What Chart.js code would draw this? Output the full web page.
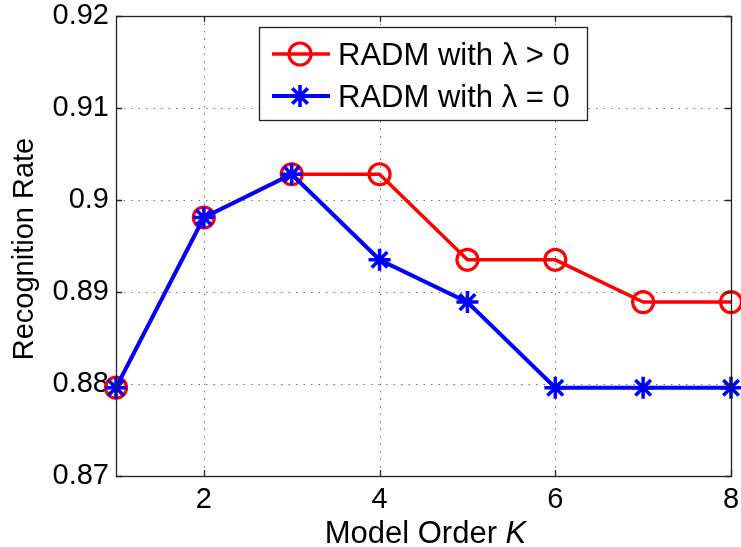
<!DOCTYPE html>
<html>
<head>
<meta charset="utf-8">
<script src="https://cdn.jsdelivr.net/npm/chart.js@4/dist/chart.umd.min.js"></script>
<style>
  html, body { margin: 0; padding: 0; background: #fff; }
  canvas { display: block; }
</style>
</head>
<body>
<canvas id="c" width="741" height="547"></canvas>
<script>
// ---- data ----
const modelOrders = [1, 2, 3, 4, 5, 6, 7, 8];
const radmLambdaPos = [0.8796, 0.8981, 0.9028, 0.9028, 0.8935, 0.8935, 0.8889, 0.8889];
const radmLambdaZero = [0.8796, 0.8981, 0.9028, 0.8935, 0.8889, 0.8796, 0.8796, 0.8796];
const seriesNames = ['RADM with \u03BB > 0', 'RADM with \u03BB = 0'];
const xTickValues = [2, 4, 6, 8];
const xTickLabels = ['2', '4', '6', '8'];
const yTickValues = [0.87, 0.88, 0.89, 0.90, 0.91, 0.92];
const yTickLabels = ['0.87', '0.88', '0.89', '0.9', '0.91', '0.92'];
const xTitle = 'Model Order ';
const xTitleItalic = 'K';
const yTitle = 'Recognition Rate';

const FONT = "'Liberation Sans', Arial, Helvetica, sans-serif";
const RED = '#ff0000';
const BLUE = '#0000ff';

function drawStar(ctx, x, y, r) {
  ctx.beginPath();
  for (let i = 0; i < 4; i++) {
    const a = i * Math.PI / 4;
    ctx.moveTo(x - r * Math.cos(a), y - r * Math.sin(a));
    ctx.lineTo(x + r * Math.cos(a), y + r * Math.sin(a));
  }
  ctx.stroke();
}

const framePlugin = {
  id: 'frame',
  beforeDatasetsDraw(chart) {
    const ctx = chart.ctx;
    const xs = chart.scales.x, ys = chart.scales.y;
    const a = chart.chartArea;
    ctx.save();
    ctx.strokeStyle = 'rgba(0,0,0,0.55)';
    ctx.lineWidth = 1;
    ctx.setLineDash([1.5, 6]);
    xTickValues.forEach(v => {
      const px = Math.round(xs.getPixelForValue(v)) + 0.5;
      if (px > a.left + 1 && px < a.right - 1) {
        ctx.beginPath(); ctx.moveTo(px, a.top); ctx.lineTo(px, a.bottom); ctx.stroke();
      }
    });
    yTickValues.forEach(v => {
      const py = Math.round(ys.getPixelForValue(v)) + 0.5;
      if (py > a.top + 1 && py < a.bottom - 1) {
        ctx.beginPath(); ctx.moveTo(a.left, py); ctx.lineTo(a.right, py); ctx.stroke();
      }
    });
    ctx.setLineDash([]);
    ctx.restore();
  },
  afterDatasetsDraw(chart) {
    const ctx = chart.ctx;
    const xs = chart.scales.x, ys = chart.scales.y;
    const a = chart.chartArea;
    ctx.save();
    ctx.strokeStyle = '#222';
    ctx.lineWidth = 1.3;
    const tl = 6;
    ctx.beginPath();
    xTickValues.forEach(v => {
      const px = Math.round(xs.getPixelForValue(v)) + 0.5;
      ctx.moveTo(px, a.bottom); ctx.lineTo(px, a.bottom - tl);
      ctx.moveTo(px, a.top); ctx.lineTo(px, a.top + tl);
    });
    yTickValues.forEach(v => {
      const py = Math.round(ys.getPixelForValue(v)) + 0.5;
      ctx.moveTo(a.left, py); ctx.lineTo(a.left + tl, py);
      ctx.moveTo(a.right, py); ctx.lineTo(a.right - tl, py);
    });
    ctx.stroke();
    ctx.strokeRect(Math.round(a.left) + 0.5, Math.round(a.top) + 0.5,
                   Math.round(a.right - a.left), Math.round(a.bottom - a.top));
    ctx.restore();
  },
  afterDraw(chart) {
    const ctx = chart.ctx;
    const a = chart.chartArea;
    ctx.save();
    // x axis title
    ctx.fillStyle = '#000';
    ctx.textBaseline = 'alphabetic';
    const tf = 31;
    ctx.font = tf + 'px ' + FONT;
    const w1 = ctx.measureText(xTitle).width;
    ctx.font = 'italic ' + tf + 'px ' + FONT;
    const w2 = ctx.measureText(xTitleItalic).width;
    const cx = (a.left + a.right) / 2 + 2;
    const sx = cx - (w1 + w2) / 2;
    ctx.textAlign = 'left';
    ctx.font = tf + 'px ' + FONT;
    ctx.fillText(xTitle, sx, 543);
    ctx.font = 'italic ' + tf + 'px ' + FONT;
    ctx.fillText(xTitleItalic, sx + w1, 543);

    // y axis title
    ctx.save();
    ctx.translate(33, (a.top + a.bottom) / 2 + 3);
    ctx.rotate(-Math.PI / 2);
    ctx.textAlign = 'center';
    ctx.font = '29px ' + FONT;
    ctx.fillText(yTitle, 0, 0);
    ctx.restore();

    // legend
    const bx = 259, by = 27, bw = 328, bh = 93;
    ctx.fillStyle = '#fff';
    ctx.fillRect(bx, by, bw, bh);
    ctx.strokeStyle = '#222';
    ctx.lineWidth = 1.3;
    ctx.strokeRect(bx + 0.5, by + 0.5, bw, bh);
    const rows = [54, 96];
    ctx.lineWidth = 3.5;
    ctx.strokeStyle = RED;
    ctx.beginPath(); ctx.moveTo(272, rows[0]); ctx.lineTo(330, rows[0]); ctx.stroke();
    ctx.lineWidth = 3.2;
    ctx.beginPath(); ctx.arc(300, rows[0], 11, 0, Math.PI * 2); ctx.stroke();
    ctx.strokeStyle = BLUE;
    ctx.lineWidth = 4;
    ctx.beginPath(); ctx.moveTo(272, rows[1]); ctx.lineTo(330, rows[1]); ctx.stroke();
    ctx.lineWidth = 3.5;
    drawStar(ctx, 300, rows[1], 11);
    ctx.fillStyle = '#000';
    ctx.font = '31px ' + FONT;
    ctx.textAlign = 'left';
    ctx.textBaseline = 'alphabetic';
    ctx.fillText(seriesNames[0], 338, 65);
    ctx.fillText(seriesNames[1], 338, 107);
    ctx.restore();
  }
};

const ctx = document.getElementById('c').getContext('2d');
new Chart(ctx, {
  type: 'line',
  data: {
    datasets: [
      {
        label: seriesNames[0],
        data: modelOrders.map((x, i) => ({ x: x, y: radmLambdaPos[i] })),
        borderColor: RED,
        backgroundColor: 'rgba(0,0,0,0)',
        borderWidth: 3.5,
        pointStyle: 'circle',
        pointRadius: 10.5,
        pointBorderWidth: 3.2,
        pointBorderColor: RED,
        pointBackgroundColor: 'rgba(0,0,0,0)',
        tension: 0,
        clip: false,
        order: 1
      },
      {
        label: seriesNames[1],
        data: modelOrders.map((x, i) => ({ x: x, y: radmLambdaZero[i] })),
        borderColor: BLUE,
        backgroundColor: 'rgba(0,0,0,0)',
        borderWidth: 4,
        pointStyle: 'star',
        pointRadius: 11,
        pointBorderWidth: 3.5,
        pointBorderColor: BLUE,
        pointBackgroundColor: BLUE,
        tension: 0,
        clip: false,
        order: 0
      }
    ]
  },
  options: {
    responsive: false,
    animation: false,
    devicePixelRatio: 1,
    layout: { autoPadding: false, padding: { top: 16, right: 10, left: 0, bottom: 0 } },
    plugins: { legend: { display: false }, tooltip: { enabled: false } },
    scales: {
      x: {
        type: 'linear',
        min: 1, max: 8,
        afterBuildTicks: s => { s.ticks = xTickValues.map(v => ({ value: v })); },
        afterFit: s => { s.height = 71; s.paddingLeft = 0; s.paddingRight = 0; },
        grid: { display: false, drawTicks: false },
        border: { display: false },
        ticks: {
          color: '#000',
          font: { family: FONT, size: 29 },
          padding: 7,
          maxRotation: 0,
          autoSkip: false,
          callback: (v) => { const i = xTickValues.indexOf(v); return i >= 0 ? xTickLabels[i] : ''; }
        }
      },
      y: {
        type: 'linear',
        min: 0.87, max: 0.92,
        afterBuildTicks: s => { s.ticks = yTickValues.map(v => ({ value: v })); },
        afterFit: s => { s.width = 116; s.paddingTop = 0; s.paddingBottom = 0; },
        grid: { display: false, drawTicks: false },
        border: { display: false },
        ticks: {
          color: '#000',
          font: { family: FONT, size: 29 },
          padding: 7,
          autoSkip: false,
          callback: (v) => {
            const i = yTickValues.findIndex(t => Math.abs(t - v) < 1e-9);
            return i >= 0 ? yTickLabels[i] : '';
          }
        }
      }
    }
  },
  plugins: [framePlugin]
});
</script>
</body>
</html>
